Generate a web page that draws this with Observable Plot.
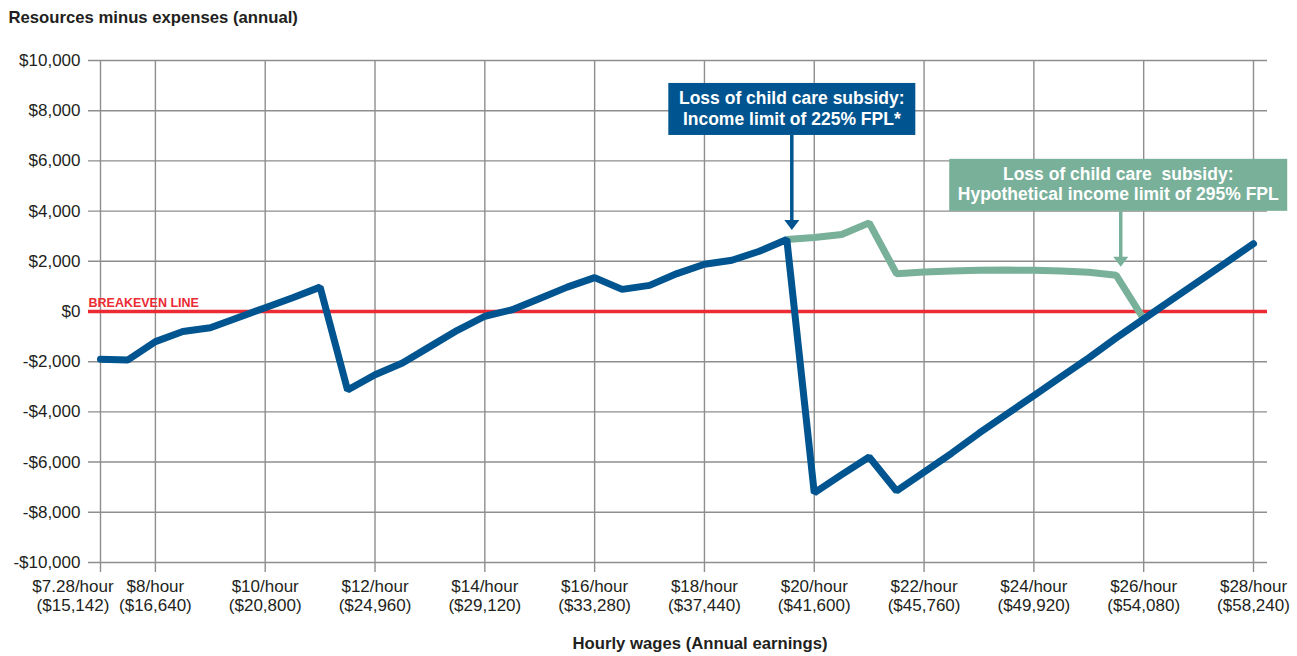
<!DOCTYPE html>
<html>
<head>
<meta charset="utf-8">
<script src="https://cdn.jsdelivr.net/npm/d3@7"></script>
<script src="https://cdn.jsdelivr.net/npm/@observablehq/plot@0.6"></script>
<style>
  html, body { margin: 0; padding: 0; background: #fff; }
  #chart svg { display: block; }
</style>
</head>
<body>
<div id="chart"></div>
<script>
// Hourly wage at each step of the simulation (first step is the minimum wage)
const wages = [7.28, 7.5, 8, 8.5, 9, 9.5, 10, 10.5, 11, 11.5, 12, 12.5, 13, 13.5, 14, 14.5,
  15, 15.5, 16, 16.5, 17, 17.5, 18, 18.5, 19, 19.5, 20, 20.5, 21, 21.5, 22, 22.5, 23, 23.5,
  24, 24.5, 25, 25.5, 26, 26.5, 27, 27.5, 28];

// Resources minus expenses under the current rules (225% FPL child care limit)
const currentLimit = [-1900, -1930, -1200, -800, -650, -250, 150, 550, 970, -3130, -2520, -2050,
  -1400, -750, -190, 70, 520, 970, 1350, 880, 1040, 1510, 1880, 2040, 2400, 2870, -7230, -6500,
  -5800, -7150, -6400, -5650, -4850, -4100, -3350, -2600, -1850, -1050, -300, 450, 1200, 1950, 2700];

// Resources minus expenses with a hypothetical 295% FPL limit (only where it differs)
const hypotheticalLimit = [null, null, null, null, null, null, null, null, null, null, null, null,
  null, null, null, null, null, null, null, null, null, null, null, null, null, 2870, 2950, 3070,
  3530, 1500, 1570, 1610, 1640, 1650, 1640, 1610, 1560, 1440, -300, null, null, null, null];

// Labelled wages on the horizontal axis and their annual earnings
const tickWages = [7.28, 8, 10, 12, 14, 16, 18, 20, 22, 24, 26, 28];
const tickAnnual = ["$15,142", "$16,640", "$20,800", "$24,960", "$29,120", "$33,280",
  "$37,440", "$41,600", "$45,760", "$49,920", "$54,080", "$58,240"];

// Vertical axis ticks
const yTicks = [-10000, -8000, -6000, -4000, -2000, 0, 2000, 4000, 6000, 8000, 10000];

const BLUE = "#00548f";
const GREEN = "#78b09a";
const RED = "#ec2a33";
const GRID = "#8e8e8e";
const INK = "#231f20";
const FONT = "'Liberation Sans', Arial, sans-serif";

const rows = wages.map((w, i) => ({i, w, current: currentLimit[i], hypo: hypotheticalLimit[i]}));
const xTicks = tickWages.map((w, k) => ({
  i: wages.indexOf(w),
  label: `$${w}/hour\n(${tickAnnual[k]})`
}));

const money = d3.format(",");
const yLabel = (v) => (v < 0 ? "-$" : "$") + money(Math.abs(v));

// Callout boxes pointing at the loss of the child care subsidy
const callouts = [
  {at: 25, series: currentLimit, fill: BLUE, width: 247, rise: 156, boxDx: 5.5, arrowDx: 5.5, gap: 9,
   lines: ["Loss of child care subsidy:", "Income limit of 225% FPL*"]},
  {at: 37, series: hypotheticalLimit, fill: GREEN, width: 338, rise: 116, boxDx: 2.5, arrowDx: 5, gap: 8,
   lines: ["Loss of child care\u00a0 subsidy:", "Hypothetical income limit of 295% FPL"]}
];

function calloutMark(index, scales) {
  const g = d3.create("svg:g");
  for (const c of callouts) {
    const px = scales.x(c.at), py = scales.y(c.series[c.at]);
    const top = py - c.rise, h = 52, cx = px + c.boxDx;
    const ax = px + c.arrowDx, tip = py - c.gap, head = 10;
    g.append("rect")
      .attr("x", cx - c.width / 2).attr("y", top)
      .attr("width", c.width).attr("height", h)
      .attr("fill", c.fill);
    g.append("line")
      .attr("x1", ax).attr("x2", ax)
      .attr("y1", top + h).attr("y2", tip - head + 1)
      .attr("stroke", c.fill).attr("stroke-width", 3.5);
    g.append("path")
      .attr("d", `M${ax - 7.5},${tip - head}L${ax + 7.5},${tip - head}L${ax},${tip}Z`)
      .attr("fill", c.fill);
    c.lines.forEach((line, k) => {
      g.append("text")
        .attr("x", cx).attr("y", top + 15 + k * 20.5)
        .attr("dy", "0.35em")
        .attr("text-anchor", "middle")
        .attr("fill", "#fff")
        .attr("font-family", FONT)
        .attr("font-weight", "bold")
        .attr("font-size", 17.5)
        .text(line);
    });
  }
  return g.node();
}

const chart = Plot.plot({
  width: 1297,
  height: 656,
  marginTop: 60,
  marginBottom: 84,
  marginLeft: 88,
  marginRight: 30,
  style: {fontFamily: FONT, fontSize: "17px", color: INK, background: "#fff", overflow: "visible"},
  x: {domain: [-0.437, 42.51], axis: null},
  y: {domain: [-10400, 10000], axis: null},
  marks: [
    Plot.ruleY(yTicks, {stroke: GRID, strokeWidth: 1.4}),
    Plot.ruleX(xTicks, {x: "i", stroke: GRID, strokeWidth: 1.4}),
    Plot.ruleY([0], {stroke: RED, strokeWidth: 3.5}),
    Plot.text([{v: 0, t: "BREAKEVEN LINE"}], {
      y: "v", text: "t", frameAnchor: "left", textAnchor: "start", lineAnchor: "bottom",
      dy: -4, fill: RED, fontWeight: "bold", fontSize: 12.5
    }),
    Plot.line(rows, {x: "i", y: "hypo", stroke: GREEN, strokeWidth: 7, strokeLinejoin: "miter", strokeLinecap: "butt"}),
    Plot.line(rows, {x: "i", y: "current", stroke: BLUE, strokeWidth: 7, strokeLinejoin: "miter", strokeLinecap: "round"}),
    calloutMark,
    // vertical axis labels
    Plot.text(yTicks, {y: (d) => d, text: yLabel, frameAnchor: "left", textAnchor: "end", dx: -8, fill: INK, fontSize: 17}),
    // horizontal axis labels (the minimum-wage label sits left of its tick)
    Plot.text(xTicks, {filter: (d) => d.i === 0, x: "i", text: "label", frameAnchor: "bottom", lineAnchor: "top",
      dy: 6, dx: -27.5, lineHeight: 1.12, fill: INK, fontSize: 17}),
    Plot.text(xTicks, {filter: (d) => d.i !== 0, x: "i", text: "label", frameAnchor: "bottom", lineAnchor: "top",
      dy: 6, lineHeight: 1.12, fill: INK, fontSize: 17}),
    // titles
    Plot.text(["Resources minus expenses (annual)"], {frameAnchor: "top-left", textAnchor: "start", lineAnchor: "middle",
      dx: -80, dy: -43, fontWeight: "bold", fontSize: 16.7, fill: INK}),
    Plot.text(["Hourly wages (Annual earnings)"], {frameAnchor: "bottom", lineAnchor: "middle",
      dx: 22, dy: 71, fontWeight: "bold", fontSize: 16.7, fill: INK})
  ]
});

document.getElementById("chart").appendChild(chart);
</script>
</body>
</html>
